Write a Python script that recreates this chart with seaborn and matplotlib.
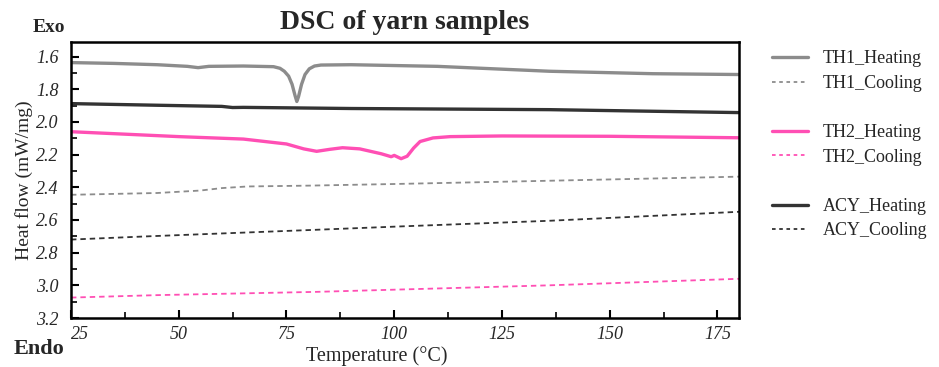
import numpy as np
import pandas as pd
import matplotlib
matplotlib.use("Agg")
import matplotlib.pyplot as plt
from matplotlib.lines import Line2D
from matplotlib.ticker import MultipleLocator
import seaborn as sns

# ---- data ----
th1_heat_T = [25, 35, 45, 52, 54.5, 57, 65, 72, 73.5, 74.5, 75.5, 76.3, 77.0, 77.4, 77.8, 78.5, 79.3, 80.3,
              81.5, 83, 90, 110, 136, 160, 180]
th1_heat_V = [1.637, 1.642, 1.650, 1.660, 1.668, 1.660, 1.658, 1.662, 1.672, 1.69, 1.72, 1.77, 1.84, 1.875,
              1.845, 1.77, 1.71, 1.675, 1.658, 1.652, 1.650, 1.660, 1.690, 1.705, 1.71]

acy_heat_T = [25, 45, 60, 62.5, 65, 90, 136, 180]
acy_heat_V = [1.888, 1.898, 1.905, 1.912, 1.911, 1.918, 1.925, 1.943]

th2_heat_T = [25, 50, 65, 75, 79, 82, 85, 88, 92, 97, 99.3, 100, 101.6, 103, 104.5, 106, 109, 113, 125, 150, 180]
th2_heat_V = [2.06, 2.09, 2.105, 2.135, 2.165, 2.18, 2.168, 2.158, 2.165, 2.195, 2.213, 2.205, 2.225, 2.21,
              2.16, 2.12, 2.098, 2.09, 2.086, 2.088, 2.097]

th1_cool_T = [25, 45, 55, 60, 66, 80, 100, 136, 180]
th1_cool_V = [2.446, 2.435, 2.42, 2.405, 2.395, 2.39, 2.38, 2.36, 2.335]

acy_cool_T = [25, 43, 82, 101, 136, 180]
acy_cool_V = [2.72, 2.70, 2.66, 2.64, 2.605, 2.55]

th2_cool_T = [25, 45, 82, 136, 180]
th2_cool_V = [3.075, 3.06, 3.04, 3.0, 2.96]

x_ticks = [25, 50, 75, 100, 125, 150, 175]
y_ticks = [1.6, 1.8, 2.0, 2.2, 2.4, 2.6, 2.8, 3.0, 3.2]

GRAY = "#8c8c8c"
DARK = "#333333"
PINK = "#ff4fb4"

sns.set_theme(style="ticks")
plt.rcParams["font.family"] = ["Liberation Serif"]

fig = plt.figure(figsize=(9.39, 3.67), dpi=100)
ax = fig.add_axes([0.0756, 0.1335, 0.7114, 0.7525])

series = [
    ("TH1_Heating", th1_heat_T, th1_heat_V, GRAY, "-", 2.4),
    ("TH1_Cooling", th1_cool_T, th1_cool_V, GRAY, "--", 1.3),
    ("TH2_Heating", th2_heat_T, th2_heat_V, PINK, "-", 2.4),
    ("TH2_Cooling", th2_cool_T, th2_cool_V, PINK, "--", 1.3),
    ("ACY_Heating", acy_heat_T, acy_heat_V, DARK, "-", 2.4),
    ("ACY_Cooling", acy_cool_T, acy_cool_V, DARK, "--", 1.3),
]

for name, T, V, c, ls, lw in series:
    df = pd.DataFrame({"T": T, "V": V})
    sns.lineplot(data=df, x="T", y="V", ax=ax, color=c, lw=lw, sort=False)
    line = ax.lines[-1]
    line.set_solid_joinstyle("round")
    if ls == "--":
        line.set_dashes((3, 2.2))

ax.set_xlim(25, 180)
ax.set_ylim(3.2, 1.51)
ax.set_xticks(x_ticks)
ax.set_yticks(y_ticks)
ax.xaxis.set_minor_locator(MultipleLocator(12.5))
ax.yaxis.set_minor_locator(MultipleLocator(0.1))
xtl = ax.set_xticklabels([str(t) for t in x_ticks], fontstyle="italic", fontsize=13)
xtl[0].set_horizontalalignment("left")
ax.set_yticklabels([f"{t:.1f}" for t in y_ticks], fontstyle="italic", fontsize=13)
ax.tick_params(axis="both", which="major", direction="in", length=6, width=1.5, color="black")
ax.tick_params(axis="x", which="major", pad=6)
ax.tick_params(axis="y", which="major", pad=9)
ax.tick_params(axis="both", which="minor", direction="in", length=4, width=1.2, color="black")
ax.tick_params(axis="y", which="both", left=True, right=False)
ax.tick_params(axis="x", which="both", bottom=True, top=False)
for s in ax.spines.values():
    s.set_visible(True)
    s.set_linewidth(1.8)
    s.set_color("black")

ax.set_xlabel("Temperature (°C)", fontsize=14.5)
ax.xaxis.set_label_coords(0.458, -0.1)
ax.set_ylabel("Heat flow (mW/mg)", fontsize=14, labelpad=2)
ax.set_title("DSC of yarn samples", fontsize=20, fontweight="bold", pad=9)

fig.text(0.052, 0.925, "Exo", fontsize=14, fontweight="bold", ha="center", va="center")
fig.text(0.042, 0.05, "Endo", fontsize=16, fontweight="bold", ha="center", va="center")

handles = []
labels = []
for i, (name, T, V, c, ls, lw) in enumerate(series):
    h = Line2D([], [], color=c, lw=lw, linestyle=ls)
    if ls == "--":
        h.set_dashes((2, 2))
    handles.append(h)
    labels.append(name)
    if i in (1, 3):
        handles.append(Line2D([], [], color="none"))
        labels.append("")

fig.legend(handles, labels, loc="upper left", bbox_to_anchor=(0.805, 0.907), frameon=False,
           fontsize=13, handlelength=2.0, labelspacing=0.42, handletextpad=0.8)

fig.savefig("out.png", dpi=100)
